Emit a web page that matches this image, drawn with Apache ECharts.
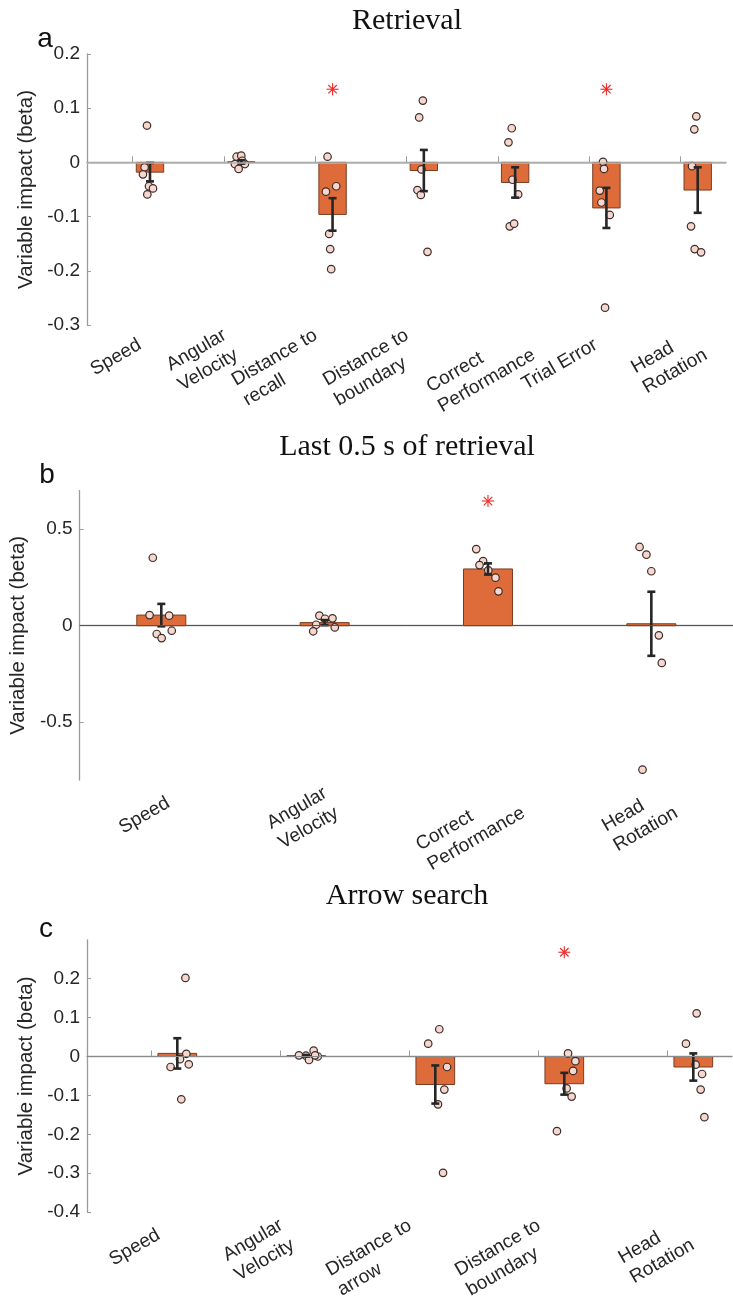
<!DOCTYPE html>
<html lang="en">
<head>
  <meta charset="UTF-8">
  <title>Variable impact</title>
  <script src="https://cdn.jsdelivr.net/npm/echarts@6/dist/echarts.min.js"></script>
  <style>
    html, body { margin: 0; padding: 0; background: #fff; }
    #main { width: 733px; height: 1306px; }
  </style>
</head>
<body>
  <div id="main"></div>
  <script>
    // ---- data ----
    // a: Retrieval
    const catsA = ['Speed', 'Angular\nVelocity', 'Distance to\nrecall', 'Distance to\nboundary', 'Correct\nPerformance', 'Trial Error', 'Head\nRotation'];
    const meanA = [-0.018, 0.001, -0.096, -0.015, -0.037, -0.084, -0.051];
    const semA = [0.017, 0.003, 0.030, 0.038, 0.028, 0.037, 0.042];
    const ptsA = [
      [0.068, -0.009, -0.022, -0.044, -0.048, -0.059],
      [0.0105, 0.0124, -0.003, -0.012, -0.003, 0.003],
      [0.0105, -0.054, -0.044, -0.132, -0.160, -0.197],
      [0.114, 0.083, -0.013, -0.051, -0.060, -0.165],
      [0.063, 0.037, -0.032, -0.059, -0.118, -0.113],
      [0.001, -0.012, -0.052, -0.074, -0.097, -0.268],
      [0.085, 0.061, -0.007, -0.118, -0.160, -0.166]
    ];
    const jitA = [
      [-0.033, -0.059, -0.077, -0.011, 0.033, -0.029],
      [-0.051, 0, -0.070, -0.029, 0.040, 0.011],
      [-0.055, -0.073, 0.040, -0.037, -0.026, -0.015],
      [-0.011, -0.051, -0.026, -0.070, -0.033, 0.040],
      [-0.037, -0.073, -0.029, 0.033, -0.059, -0.011],
      [-0.037, -0.026, -0.073, -0.055, 0.037, -0.015],
      [-0.015, -0.037, -0.062, -0.073, -0.033, 0.037]
    ];
    const starsA = [[3, 0.135], [6, 0.135]];

    // b: Last 0.5 s of retrieval
    const catsB = ['Speed', 'Angular\nVelocity', 'Correct\nPerformance', 'Head\nRotation'];
    const meanB = [0.055, 0.016, 0.294, 0.010];
    const semB = [0.058, 0.013, 0.029, 0.166];
    const ptsB = [
      [0.352, 0.055, 0.052, -0.043, -0.064, -0.026],
      [0.052, 0.036, 0.038, 0.005, -0.029, -0.009],
      [0.397, 0.335, 0.314, 0.287, 0.249, 0.178],
      [0.408, 0.368, 0.282, -0.050, -0.193, -0.746]
    ];
    const jitB = [
      [-0.052, -0.072, 0.048, -0.028, 0.002, 0.064],
      [-0.032, 0.002, 0.048, -0.052, -0.070, 0.062],
      [-0.072, -0.030, -0.052, 0.002, 0.046, 0.064],
      [-0.072, -0.030, 0, 0.046, 0.064, -0.054]
    ];
    const starsB = [[3, 0.646]];
    const ticksB = [-0.5, 0, 0.5];

    // c: Arrow search
    const catsC = ['Speed', 'Angular\nVelocity', 'Distance to\narrow', 'Distance to\nboundary', 'Head\nRotation'];
    const meanC = [0.008, 0.002, -0.072, -0.070, -0.027];
    const semC = [0.039, 0.002, 0.049, 0.028, 0.035];
    const ptsC = [
      [0.202, 0.007, -0.007, -0.027, -0.020, -0.110],
      [0.003, 0.002, -0.009, 0.015, 0.000, 0.003],
      [0.070, 0.033, -0.027, -0.085, -0.123, -0.299],
      [0.008, -0.012, -0.037, -0.082, -0.103, -0.192],
      [0.111, 0.033, -0.021, -0.045, -0.085, -0.156]
    ];
    const jitC = [
      [0.063, 0.070, 0.021, -0.052, 0.089, 0.031],
      [-0.057, -0.003, 0.021, 0.057, 0.089, 0.068],
      [0.031, -0.055, 0.091, 0.070, 0.021, 0.060],
      [0.029, 0.086, 0.068, 0.018, 0.057, -0.057],
      [0.026, -0.057, 0.018, 0.068, 0.057, 0.086]
    ];
    const starsC = [[4, 0.268]];

    // ---- styling ----
    const SANS = '"Liberation Sans", Arial, sans-serif';
    const SERIF = '"Liberation Serif", "Times New Roman", serif';
    const TXT = '#262626';
    const AXIS = '#9a9a9a';
    const BAR = '#de6c3a';
    const LABEL_SIZE = 19;

    // measure label lines so multi-line labels stay left aligned inside the rotated block
    const ctx = document.createElement('canvas').getContext('2d');
    ctx.font = LABEL_SIZE + 'px ' + SANS;
    const lineWidths = c => c.split('\n').map(l => ctx.measureText(l).width);
    function richFor(cats) {
      const rich = {};
      cats.forEach((c, i) => {
        rich['w' + i] = { width: Math.ceil(Math.max(...lineWidths(c))) + 1, align: 'left', fontSize: LABEL_SIZE, lineHeight: 23, color: TXT, fontFamily: SANS };
      });
      return rich;
    }
    // label anchor offset (px) right of the tick; longer second lines push the block right
    function labelOffset(c) {
      const w = lineWidths(c);
      return 8 + (w.length > 1 ? 0.5 * Math.max(0, w[1] - w[0]) : 0);
    }

    const panels = [
      { cats: catsA, mean: meanA, sem: semA, pts: ptsA, jit: jitA, stars: starsA, shift: 0.19, margin: 18,
        grid: { left: 87, top: 54, width: 639, height: 271 }, min: -0.3, max: 0.2, interval: 0.1,
        nameGap: 42, zero: { color: '#b4b4b4', width: 1.5 } },
      { cats: catsB, mean: meanB, sem: semB, pts: ptsB, jit: jitB, stars: starsB, shift: 0, margin: 21,
        grid: { left: 78, top: 490.6, width: 664, height: 289.5 }, min: -0.8, max: 0.7, custom: ticksB,
        nameGap: 33, zero: { color: '#555', width: 1 } },
      { cats: catsC, mean: meanC, sem: semC, pts: ptsC, jit: jitC, stars: starsC, shift: 0.2, margin: 21,
        grid: { left: 87, top: 939.8, width: 645, height: 272.3 }, min: -0.4, max: 0.3, interval: 0.1,
        nameGap: 42, zero: { color: '#8a8a8a', width: 1.2 }, hideMax: true }
    ];

    const grids = [], xAxes = [], yAxes = [], series = [];

    panels.forEach((p, k) => {
      const n = p.cats.length;
      const idx = p.cats.map((c, i) => i + 1);
      const pxPerUnit = p.grid.width / n;
      const labelPos = p.cats.map((c, i) => i + 1 + labelOffset(c) / pxPerUnit);
      grids.push(Object.assign({ containLabel: false }, p.grid));

      xAxes.push({
        type: 'value', gridIndex: k, min: 0.5, max: n + 0.5,
        splitLine: { show: false },
        axisLine: { lineStyle: { color: AXIS, width: 1.3 } },
        axisTick: { inside: true, length: 6, customValues: idx, lineStyle: { color: AXIS } },
        axisLabel: {
          customValues: labelPos,
          rotate: 30, margin: p.margin, color: TXT, fontSize: LABEL_SIZE, fontFamily: SANS,
          formatter: v => {
            let i = 0;
            labelPos.forEach((q, j) => { if (Math.abs(q - v) < Math.abs(labelPos[i] - v)) i = j; });
            return p.cats[i].split('\n').map(l => '{w' + i + '|' + l + '}').join('\n');
          },
          rich: richFor(p.cats)
        }
      });

      const y = {
        type: 'value', gridIndex: k, min: p.min, max: p.max,
        name: 'Variable impact (beta)', nameLocation: 'middle', nameGap: p.nameGap,
        nameTextStyle: { color: TXT, fontSize: 20.5, fontFamily: SANS },
        splitLine: { show: false },
        axisLine: { show: true, lineStyle: { color: AXIS, width: 1.3 } },
        axisTick: { show: true, inside: true, length: 4, lineStyle: { color: AXIS } },
        axisLabel: { color: TXT, fontSize: LABEL_SIZE, fontFamily: SANS, margin: 7 }
      };
      if (p.interval) y.interval = p.interval;
      if (p.custom) {
        y.axisTick.customValues = p.custom;
        y.axisLabel.customValues = p.custom;
      }
      if (p.hideMax) y.axisLabel.showMaxLabel = false;
      yAxes.push(y);

      const half = 0.15; // bar half width in category units

      series.push({
        type: 'custom', xAxisIndex: k, yAxisIndex: k, z: 2,
        data: p.mean.map((m, i) => [i + 1 + p.shift, m]),
        encode: { x: 0, y: 1 },
        renderItem: (params, api) => {
          const a = api.coord([api.value(0) - half, api.value(1)]);
          const b = api.coord([api.value(0) + half, 0]);
          return {
            type: 'rect',
            shape: { x: a[0], y: Math.min(a[1], b[1]), width: b[0] - a[0], height: Math.max(Math.abs(b[1] - a[1]), 0.5) },
            style: { fill: BAR, stroke: '#7a3c20', lineWidth: 1 }
          };
        },
        markLine: {
          silent: true, symbol: 'none', label: { show: false },
          lineStyle: { color: p.zero.color, width: p.zero.width, type: 'solid' },
          data: [{ yAxis: 0 }]
        }
      });

      const dots = [];
      p.pts.forEach((arr, i) => arr.forEach((v, j) => dots.push([i + 1 + p.shift + p.jit[i][j], v])));
      series.push({
        type: 'scatter', xAxisIndex: k, yAxisIndex: k, z: 3,
        symbol: 'circle', symbolSize: 7.5,
        itemStyle: { color: '#f4d8cf', borderColor: '#3e2c28', borderWidth: 1.2, opacity: 1 },
        data: dots
      });

      series.push({
        type: 'custom', xAxisIndex: k, yAxisIndex: k, z: 4,
        data: p.mean.map((m, i) => [i + 1 + p.shift, m, p.sem[i]]),
        encode: { x: 0, y: 1 },
        renderItem: (params, api) => {
          const x = api.value(0), m = api.value(1), s = api.value(2);
          const t = api.coord([x, m + s]);
          const b = api.coord([x, m - s]);
          const st = { stroke: '#262626', lineWidth: 2.6 };
          return {
            type: 'group',
            children: [
              { type: 'line', shape: { x1: t[0], y1: t[1], x2: b[0], y2: b[1] }, style: st },
              { type: 'line', shape: { x1: t[0] - 4, y1: t[1], x2: t[0] + 4, y2: t[1] }, style: st },
              { type: 'line', shape: { x1: b[0] - 4, y1: b[1], x2: b[0] + 4, y2: b[1] }, style: st }
            ]
          };
        }
      });

      series.push({
        type: 'custom', xAxisIndex: k, yAxisIndex: k, z: 5,
        data: p.stars.map(s => [s[0] + p.shift, s[1]]),
        encode: { x: 0, y: 1 },
        renderItem: (params, api) => {
          const c = api.coord([api.value(0), api.value(1)]);
          const r = 6, d = r * Math.SQRT1_2;
          const st = { stroke: '#f02828', lineWidth: 1.1 };
          return {
            type: 'group',
            children: [
              { type: 'line', shape: { x1: c[0] - r, y1: c[1], x2: c[0] + r, y2: c[1] }, style: st },
              { type: 'line', shape: { x1: c[0], y1: c[1] - r, x2: c[0], y2: c[1] + r }, style: st },
              { type: 'line', shape: { x1: c[0] - d, y1: c[1] - d, x2: c[0] + d, y2: c[1] + d }, style: st },
              { type: 'line', shape: { x1: c[0] - d, y1: c[1] + d, x2: c[0] + d, y2: c[1] - d }, style: st }
            ]
          };
        }
      });
    });

    const titleStyle = { color: '#111', fontSize: 30, fontWeight: 'normal', fontFamily: SERIF, lineHeight: 30 };
    const letterStyle = { color: '#111', fontSize: 28, fontWeight: 'normal', fontFamily: SANS, lineHeight: 28 };

    const option = {
      animation: false,
      backgroundColor: '#fff',
      title: [
        { text: 'Retrieval', left: 407, top: 6, textAlign: 'center', textStyle: titleStyle, padding: 0 },
        { text: 'Last 0.5 s of retrieval', left: 407, top: 432, textAlign: 'center', textStyle: titleStyle, padding: 0 },
        { text: 'Arrow search', left: 407, top: 881, textAlign: 'center', textStyle: titleStyle, padding: 0 },
        { text: 'a', left: 45, top: 25, textAlign: 'center', textStyle: letterStyle, padding: 0 },
        { text: 'b', left: 47, top: 461, textAlign: 'center', textStyle: letterStyle, padding: 0 },
        { text: 'c', left: 46, top: 915, textAlign: 'center', textStyle: letterStyle, padding: 0 }
      ],
      grid: grids,
      xAxis: xAxes,
      yAxis: yAxes,
      series: series
    };

    const myChart = echarts.init(document.getElementById('main'));
    myChart.setOption(option);
  </script>
</body>
</html>
